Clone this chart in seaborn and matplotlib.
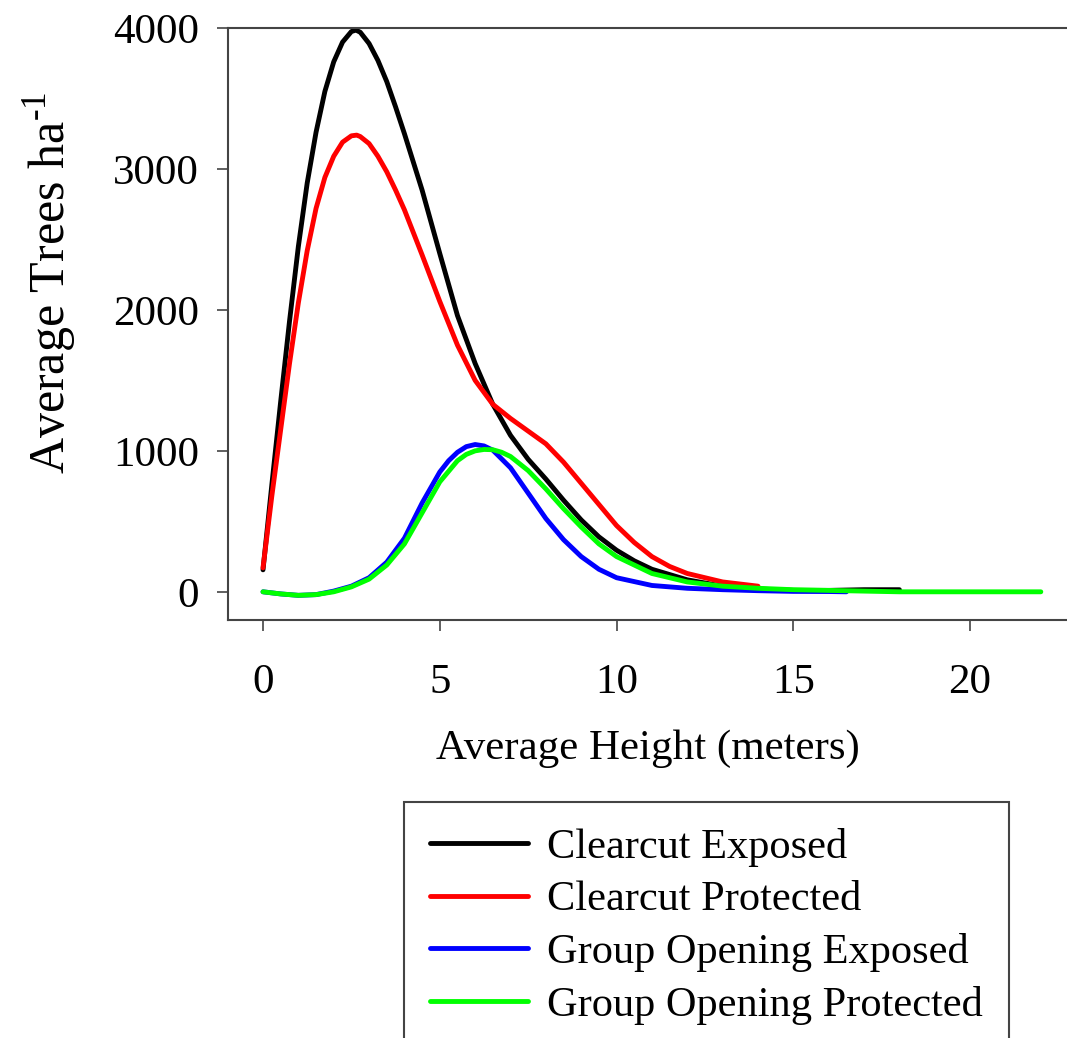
import numpy as np
import pandas as pd
import matplotlib
matplotlib.use("Agg")
import matplotlib.pyplot as plt
from matplotlib.lines import Line2D
import seaborn as sns

# ---- data ----
ce_x = [0, 0.25, 0.5, 0.75, 1.0, 1.25, 1.5, 1.75, 2.0, 2.25, 2.5, 2.63, 2.75, 3.0, 3.25, 3.5,
        3.75, 4.0, 4.5, 5.0, 5.5, 6.0, 6.5, 7.0, 7.5, 8.0, 8.5, 9.0, 9.5, 10, 10.5, 11, 12, 13,
        14, 15, 16, 17, 18]
ce_y = [156, 760, 1350, 1920, 2450, 2900, 3260, 3550, 3760, 3900, 3975, 3985, 3970, 3890,
        3770, 3620, 3440, 3250, 2850, 2400, 1960, 1620, 1330, 1110, 940, 800, 650, 510, 390,
        295, 220, 160, 85, 40, 20, 10, 10, 15, 15]

cp_x = [0, 0.25, 0.5, 0.75, 1.0, 1.25, 1.5, 1.75, 2.0, 2.25, 2.5, 2.65, 2.75, 3.0, 3.25, 3.5,
        3.75, 4.0, 4.5, 5.0, 5.5, 6.0, 6.5, 7.0, 7.5, 8.0, 8.5, 9.0, 9.5, 10, 10.5, 11, 11.5,
        12, 13, 14]
cp_y = [170, 680, 1150, 1620, 2050, 2420, 2720, 2940, 3090, 3190, 3235, 3240, 3230, 3180,
        3090, 2980, 2850, 2710, 2390, 2060, 1750, 1500, 1330, 1230, 1140, 1050, 920, 770, 620,
        470, 350, 250, 180, 130, 70, 40]

ge_x = [0, 0.5, 1.0, 1.5, 2.0, 2.5, 3.0, 3.5, 4.0, 4.5, 5.0, 5.25, 5.5, 5.75, 6.0, 6.25, 6.5,
        7.0, 7.5, 8.0, 8.5, 9.0, 9.5, 10, 11, 12, 13, 14, 15, 16, 16.5]
ge_y = [0, -15, -25, -20, 5, 40, 100, 210, 380, 630, 850, 930, 990, 1030, 1045, 1035, 1005,
        880, 700, 520, 370, 250, 160, 100, 45, 25, 15, 8, 3, 2, 0]

gp_x = [0, 0.5, 1.0, 1.5, 2.0, 2.5, 3.0, 3.5, 4.0, 4.5, 5.0, 5.5, 5.75, 6.0, 6.25, 6.5, 6.75,
        7.0, 7.5, 8.0, 8.5, 9.0, 9.5, 10, 11, 12, 13, 14, 15, 16, 17, 18, 19, 20, 21, 22]
gp_y = [0, -15, -25, -20, 0, 35, 90, 190, 340, 560, 780, 930, 975, 1000, 1010, 1008, 990,
        960, 860, 730, 590, 460, 340, 250, 130, 70, 40, 25, 15, 10, 5, 0, 0, 0, 0, 0]

series_names = ["Clearcut Exposed", "Clearcut Protected",
                "Group Opening Exposed", "Group Opening Protected"]
series_colors = ["#000000", "#ff0000", "#0000ff", "#00ff00"]

x_ticks = [0, 5, 10, 15, 20]
y_ticks = [0, 1000, 2000, 3000, 4000]

frames = []
for name, xs, ys in zip(series_names, [ce_x, cp_x, ge_x, gp_x], [ce_y, cp_y, ge_y, gp_y]):
    frames.append(pd.DataFrame({"height": xs, "trees": ys, "series": name}))
df = pd.concat(frames, ignore_index=True)

# ---- style ----
sns.set_style("ticks")
plt.rcParams["font.family"] = ["Liberation Serif", "DejaVu Serif"]
plt.rcParams["mathtext.fontset"] = "custom"
plt.rcParams["mathtext.rm"] = "Liberation Serif"
plt.rcParams["text.color"] = "black"
plt.rcParams["axes.labelcolor"] = "black"

FS = 31
W, H = 1067, 1038
fig = plt.figure(figsize=(W / 100, H / 100), dpi=100)
ax = fig.add_axes([228 / W, 1 - 620 / H, (W - 228) / W, (620 - 28) / H])

sns.lineplot(data=df, x="height", y="trees", hue="series", hue_order=series_names,
             palette=dict(zip(series_names, series_colors)), linewidth=3.5,
             estimator=None, sort=False, legend=False, ax=ax)
for ln in ax.lines:
    ln.set_solid_joinstyle("round")
    ln.set_solid_capstyle("round")

ax.set_xlim(-0.99, 22.74)
ax.set_ylim(-200, 4000)
ax.set_xticks(x_ticks)
ax.set_yticks(y_ticks)

spine_col = "#444444"
for s in ["left", "bottom", "top"]:
    ax.spines[s].set_color(spine_col)
    ax.spines[s].set_linewidth(1.5)
ax.spines["right"].set_visible(False)

ax.tick_params(axis="both", direction="out", length=8, width=1.2, color=spine_col,
               labelsize=FS, labelcolor="black")
ax.tick_params(axis="x", pad=23)
ax.tick_params(axis="y", pad=13)

ax.set_xlabel("Average Height (meters)", fontsize=FS, labelpad=20, color="black")
ax.set_ylabel(r"Average Trees ha$^{\text{-1}}$", fontsize=36, color="black")
ax.yaxis.set_label_coords(-0.178, 0.57)

handles = [Line2D([], [], color=c, linewidth=3.5) for c in series_colors]
leg = fig.legend(handles, series_names, loc="upper left",
                 bbox_to_anchor=(404 / W, 1 - 802 / H), fontsize=30.5,
                 frameon=True, fancybox=False, shadow=False, framealpha=1,
                 handlelength=2.3, handletextpad=0.45, labelspacing=0.32,
                 borderpad=0.62, borderaxespad=0)
leg.get_frame().set_edgecolor("#444444")
leg.get_frame().set_linewidth(1.5)
for t in leg.get_texts():
    t.set_color("black")

fig.savefig("out.png", dpi=100)
